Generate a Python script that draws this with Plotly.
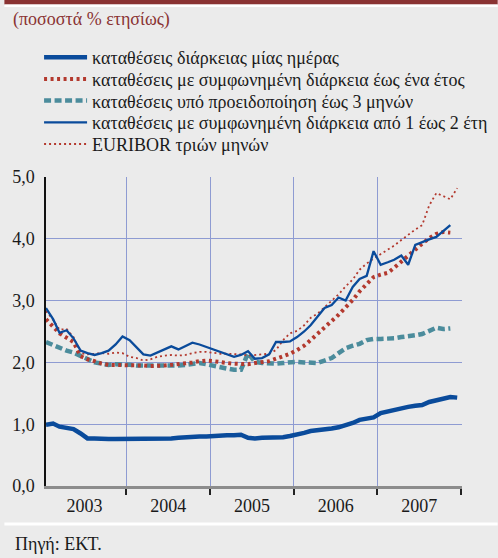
import plotly.graph_objects as go
import pandas as pd

# ---------------- data (monthly averages, % per year) ----------------
months = pd.date_range("2003-01-01", periods=60, freq="MS") + pd.Timedelta(days=14)

overnight = [0.99, 1.01, 0.96, 0.94, 0.92, 0.85, 0.77, 0.77, 0.76, 0.76, 0.76, 0.76,
             0.76, 0.76, 0.76, 0.76, 0.76, 0.76, 0.77, 0.78, 0.79, 0.79, 0.80, 0.80,
             0.81, 0.81, 0.82, 0.82, 0.83, 0.78, 0.77, 0.78, 0.78, 0.78, 0.79, 0.81,
             0.83, 0.86, 0.89, 0.90, 0.92, 0.93, 0.95, 0.98, 1.02, 1.07, 1.09, 1.11,
             1.18, 1.21, 1.23, 1.25, 1.28, 1.30, 1.31, 1.36, 1.39, 1.41, 1.44, 1.43]

agreed_1y = [2.70, 2.59, 2.47, 2.40, 2.33, 2.10, 2.05, 2.02, 1.98, 1.96, 1.96, 1.96,
             1.95, 1.95, 1.95, 1.94, 1.94, 1.95, 1.96, 1.97, 1.99, 2.00, 2.02, 2.03,
             2.02, 2.00, 1.99, 1.98, 1.97, 1.97, 1.99, 2.00, 2.02, 2.06, 2.10, 2.14,
             2.20, 2.27, 2.36, 2.47, 2.58, 2.67, 2.77, 2.88, 3.01, 3.15, 3.26, 3.38,
             3.42, 3.45, 3.53, 3.63, 3.72, 3.84, 3.92, 4.01, 4.08, 4.11, 4.10]

notice_3m = [2.33, 2.28, 2.23, 2.19, 2.16, 2.11, 2.05, 2.00, 1.98, 1.96, 1.97, 1.97,
             1.96, 1.95, 1.95, 1.94, 1.94, 1.94, 1.94, 1.95, 1.96, 1.98, 1.99, 1.97,
             1.94, 1.92, 1.90, 1.88, 1.88, 2.15, 2.01, 1.99, 1.98, 1.98, 1.99, 2.00,
             2.01, 2.00, 1.99, 1.99, 2.03, 2.07, 2.15, 2.23, 2.27, 2.30, 2.36, 2.38,
             2.38, 2.38, 2.39, 2.41, 2.42, 2.44, 2.46, 2.52, 2.56, 2.54, 2.55]

agreed_1_2y = [2.88, 2.70, 2.48, 2.52, 2.39, 2.19, 2.15, 2.12, 2.15, 2.19, 2.29, 2.42,
               2.36, 2.24, 2.13, 2.11, 2.16, 2.21, 2.26, 2.21, 2.26, 2.32, 2.29, 2.25,
               2.22, 2.18, 2.13, 2.09, 2.12, 2.18, 2.06, 2.07, 2.13, 2.33, 2.33, 2.34,
               2.41, 2.50, 2.60, 2.74, 2.88, 2.93, 3.05, 3.00, 3.22, 3.35, 3.40, 3.80,
               3.58, 3.62, 3.66, 3.73, 3.58, 3.90, 3.95, 3.99, 4.03, 4.13, 4.22]

euribor_3m = [2.83, 2.69, 2.53, 2.54, 2.41, 2.15, 2.13, 2.14, 2.15, 2.14, 2.16, 2.15,
              2.09, 2.07, 2.03, 2.05, 2.09, 2.11, 2.12, 2.11, 2.12, 2.15, 2.17, 2.17,
              2.15, 2.14, 2.14, 2.14, 2.13, 2.11, 2.12, 2.13, 2.14, 2.20, 2.36, 2.47,
              2.51, 2.60, 2.72, 2.79, 2.89, 2.99, 3.10, 3.23, 3.34, 3.50, 3.60, 3.68,
              3.75, 3.82, 3.89, 3.98, 4.07, 4.15, 4.22, 4.54, 4.74, 4.69, 4.64, 4.82]

names = ["καταθέσεις διάρκειας μίας ημέρας",
         "καταθέσεις με συμφωνημένη διάρκεια έως ένα έτος",
         "καταθέσεις υπό προειδοποίηση έως 3 μηνών",
         "καταθέσεις με συμφωνημένη διάρκεια από 1 έως 2 έτη",
         "EURIBOR τριών μηνών"]

title_text = "(ποσοστά % ετησίως)"
source_text = "Πηγή: ΕΚΤ."

# ---------------- layout helpers ----------------
W, H = 498, 558
ML, MR, MT, MB = 42, 36, 177, 72
PW, PH = W - ML - MR, H - MT - MB


def px_x(x):
    return (x - ML) / PW


def px_y(y):
    return (H - MB - y) / PH


FONT = "'Liberation Serif', 'Times New Roman', 'DejaVu Serif', serif"
BLUE = "#0a4b9b"
RED = "#b3392e"
TEAL = "#4b8c9c"
GRID = "#8e9bd2"
BG = "#ebebeb"

fig = go.Figure()

series = [
    (notice_3m, names[2], dict(color=TEAL, width=4.5, dash="7px,3.5px"), "legend3"),
    (agreed_1y, names[1], dict(color=RED, width=4, dash="3px,3.5px"), "legend2"),
    (euribor_3m, names[4], dict(color=RED, width=1.8, dash="2px,3px"), "legend5"),
    (agreed_1_2y, names[3], dict(color=BLUE, width=2.3), "legend4"),
    (overnight, names[0], dict(color=BLUE, width=4.5), "legend"),
]
for vals, nm, ln, lg in series:
    fig.add_trace(go.Scatter(x=months[:len(vals)], y=vals, name=nm, mode="lines",
                             line=ln, legend=lg, hoverinfo="skip"))

# one legend per row so the row spacing matches the reference
row_centres = [57.5, 79.2, 100.9, 122.6, 144.3]
legend_keys = ["legend", "legend2", "legend3", "legend4", "legend5"]
legend_layout = {}
for key, yc in zip(legend_keys, row_centres):
    legend_layout[key] = dict(x=px_x(35), xanchor="left", y=px_y(yc), yanchor="middle",
                              bgcolor="rgba(0,0,0,0)", borderwidth=0, itemwidth=43,
                              font=dict(family=FONT, size=18, color="#1a1a1a"))

fig.update_layout(
    width=W, height=H,
    margin=dict(l=ML, r=MR, t=MT, b=MB),
    paper_bgcolor=BG, plot_bgcolor=BG,
    separators=",.",
    font=dict(family=FONT, size=18, color="#1a1a1a"),
    showlegend=True,
    **legend_layout,
    xaxis=dict(type="date", range=["2003-01-15", "2008-01-05"],
               tick0="2003-01-01", dtick="M12", ticklabelmode="period", tickformat="%Y",
               ticks="outside", ticklen=6, tickwidth=1.5, tickcolor="#222",
               ticklabelstandoff=-4,
               showgrid=True, gridcolor=GRID, gridwidth=1,
               showline=True, linecolor="#8c8c8c", linewidth=2.5, zeroline=False),
    yaxis=dict(range=[0, 5], dtick=1, tick0=0, tickformat=".1f",
               showgrid=True, gridcolor=GRID, gridwidth=1,
               showline=True, linecolor="#111", linewidth=1.5,
               ticks="", ticklabelstandoff=6, zeroline=False),
    yaxis2=dict(overlaying="y", side="right", range=[0, 5], dtick=1, tick0=0,
                tickformat=".1f", showgrid=False, showline=True, linecolor="#8c8c8c",
                linewidth=2, ticks="", ticklabelstandoff=5, zeroline=False),
    shapes=[
        dict(type="rect", xref="paper", yref="paper", x0=px_x(0), x1=px_x(W),
             y0=px_y(0), y1=px_y(4.5), fillcolor="#8a3333", line=dict(width=0), layer="above"),
        dict(type="rect", xref="paper", yref="paper", x0=px_x(0), x1=px_x(W),
             y0=px_y(4.5), y1=px_y(7), fillcolor="#ffffff", line=dict(width=0), layer="above"),
        dict(type="rect", xref="paper", yref="paper", x0=px_x(0), x1=px_x(W),
             y0=px_y(522.5), y1=px_y(525.5), fillcolor="#ffffff", line=dict(width=0), layer="above"),
    ],
    annotations=[
        dict(text=title_text, xref="paper", yref="paper", x=px_x(7), y=px_y(20),
             xanchor="left", yanchor="middle", showarrow=False,
             font=dict(family=FONT, size=18, color="#8a3333")),
        dict(text=source_text, xref="paper", yref="paper", x=px_x(9), y=px_y(544),
             xanchor="left", yanchor="middle", showarrow=False,
             font=dict(family=FONT, size=18, color="#1a1a1a")),
    ],
)

fig.write_html("out.html",
               config={"displayModeBar": False},
               post_script="document.body.style.margin='0px';document.body.style.overflow='hidden';")
